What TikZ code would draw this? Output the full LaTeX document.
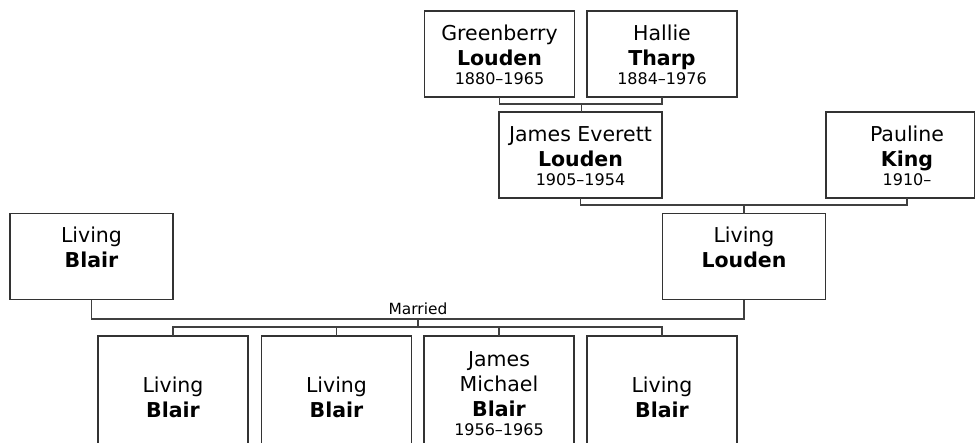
\documentclass[tikz,border=0pt]{standalone}
\usepackage{fontspec}
\setmainfont{DejaVu Sans}
\usetikzlibrary{calc}
\tikzset{
  person/.style={draw=black!80, line width=1.4pt, fill=white, inner sep=0pt, outer sep=0pt, minimum height=86pt},
  widebox/.style={person, minimum width=163pt},
  narrowbox/.style={person, minimum width=150pt},
  kidbox/.style={person, minimum width=150pt, minimum height=130pt},
  nm/.style={anchor=north, align=center, inner sep=0pt, font=\fontsize{20.5}{25}\selectfont},
  link/.style={draw=black!75, line width=1.4pt},
  marr/.style={anchor=base, inner sep=0pt, font=\fontsize{15.4}{18}\selectfont},
}
\newcommand{\dt}[1]{\\[-5.5pt]{\fontsize{16}{19}\selectfont #1}}
\begin{document}
\begin{tikzpicture}[x=1pt,y=-1pt]
\clip (0,0) rectangle (975,442);
% boxes
\node[narrowbox] (g) at (499.5,54) {};
\node[narrowbox] (h) at (662,54) {};
\node[widebox] (je) at (580.5,155) {};
\node[person, minimum width=148.5pt] (pk) at (900.25,155) {};
\node[widebox] (lb) at (91.5,256.5) {};
\node[widebox] (ll) at (744,256.5) {};
\node[kidbox] (c1) at (173,401) {};
\node[kidbox] (c2) at (336.5,401) {};
\node[kidbox] (c3) at (499,401) {};
\node[kidbox] (c4) at (662,401) {};
% texts
\node[nm] (tg) at ($(g.north)+(0,13.3)$) {\vphantom{Lb}Greenberry\\\textbf{Louden}\dt{1880–1965}};
\node[nm] (th) at ($(h.north)+(0,13.3)$) {\vphantom{Lb}Hallie\\\textbf{Tharp}\dt{1884–1976}};
\node[nm] (tje) at ($(je.north)+(0,13.3)$) {\vphantom{Lb}James Everett\\\textbf{Louden}\dt{1905–1954}};
\node[nm] (tpk) at (907,125.3) {\vphantom{Lb}Pauline\\\textbf{King}\dt{1910–}};
\node[nm] (tlb) at ($(lb.north)+(0,13.3)$) {\vphantom{Lb}Living\\\textbf{Blair}};
\node[nm] (tll) at ($(ll.north)+(0,13.3)$) {\vphantom{Lb}Living\\\textbf{Louden}};
\node[nm] (tc1) at ($(c1.north)+(0,40.5)$) {\vphantom{Lb}Living\\\textbf{Blair}};
\node[nm] (tc2) at ($(c2.north)+(0,40.5)$) {\vphantom{Lb}Living\\\textbf{Blair}};
\node[nm] (tc3) at ($(c3.north)+(0,14.5)$) {\vphantom{Lb}James\\Michael\\\textbf{Blair}\dt{1956–1965}};
\node[nm] (tc4) at ($(c4.north)+(0,40.5)$) {\vphantom{Lb}Living\\\textbf{Blair}};
% connectors
\coordinate (gh) at (581.5,104);
\draw[link] (g.south) |- (gh) -| (h.south);
\draw[link] (gh) -- (gh |- je.north);
\coordinate (pkb) at (907,198);
\coordinate (jp) at (744,205);
\draw[link] (je.south) |- (jp) -| (pkb);
\draw[link] (jp) -- (ll.north);
\coordinate (m) at (418,319);
\draw[link] (lb.south) |- (m) -| (ll.south);
\node[marr] (mar) at (418,314.5) {Married};
\coordinate (k) at (418,327);
\draw[link] (m) -- (k);
\draw[link] (c1.north) |- (k) -| (c4.north);
\draw[link] (c2.north) -- (c2.north |- k);
\draw[link] (c3.north) -- (c3.north |- k);
\end{tikzpicture}
\end{document}
